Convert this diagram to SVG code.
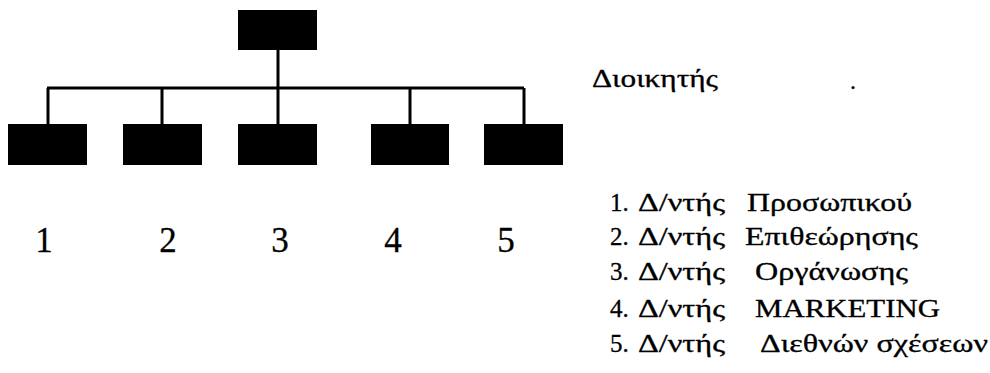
<svg xmlns="http://www.w3.org/2000/svg" width="990" height="373" viewBox="0 0 990 373">
<style>
.box{fill:#000}
.ln{stroke:#000;stroke-width:3;fill:none}
text{font-family:"Liberation Serif","Times New Roman","DejaVu Serif",serif;fill:#000;stroke:#000;stroke-width:0.3}
.num{font-size:35px}
.lst{font-size:25px}
</style>
<rect width="990" height="373" fill="#fff"/>
<g id="connectors">
<line class="ln" x1="278" y1="50" x2="278" y2="125"/>
<line class="ln" x1="47" y1="88" x2="524" y2="88"/>
<line class="ln" x1="48" y1="88" x2="48" y2="125"/>
<line class="ln" x1="162" y1="88" x2="162" y2="125"/>
<line class="ln" x1="410" y1="88" x2="410" y2="125"/>
<line class="ln" x1="524" y1="88" x2="524" y2="125"/>
</g>
<g id="node-top"><rect class="box" x="238" y="10" width="79" height="40"/></g>
<g id="node-1"><rect class="box" x="8" y="124" width="79" height="41"/></g>
<g id="node-2"><rect class="box" x="123" y="124" width="79" height="41"/></g>
<g id="node-3"><rect class="box" x="238" y="124" width="79" height="41"/></g>
<g id="node-4"><rect class="box" x="371" y="124" width="78" height="41"/></g>
<g id="node-5"><rect class="box" x="484" y="124" width="79" height="41"/></g>
<g id="numbers" class="num" text-anchor="middle">
<text x="44" y="252">1</text>
<text x="168" y="252">2</text>
<text x="280" y="252">3</text>
<text x="393" y="252">4</text>
<text x="506" y="252">5</text>
</g>
<text x="592" y="87" font-size="25" textLength="126" lengthAdjust="spacingAndGlyphs">Διοικητής</text>
<text x="850" y="89" font-size="24">.</text>
<g id="legend" class="lst">
<g><text x="610" y="211">1.</text><text x="638" y="211" textLength="87" lengthAdjust="spacingAndGlyphs">Δ/ντής</text><text x="747" y="211" textLength="165" lengthAdjust="spacingAndGlyphs">Προσωπικού</text></g>
<g><text x="610" y="245">2.</text><text x="638" y="245" textLength="87" lengthAdjust="spacingAndGlyphs">Δ/ντής</text><text x="745" y="245" textLength="173" lengthAdjust="spacingAndGlyphs">Επιθεώρησης</text></g>
<g><text x="610" y="280">3.</text><text x="638" y="280" textLength="87" lengthAdjust="spacingAndGlyphs">Δ/ντής</text><text x="755" y="280" textLength="153" lengthAdjust="spacingAndGlyphs">Οργάνωσης</text></g>
<g><text x="610" y="317">4.</text><text x="638" y="317" textLength="87" lengthAdjust="spacingAndGlyphs">Δ/ντής</text><text x="755" y="317" textLength="185" lengthAdjust="spacingAndGlyphs">MARKETING</text></g>
<g><text x="610" y="352">5.</text><text x="638" y="352" textLength="87" lengthAdjust="spacingAndGlyphs">Δ/ντής</text><text x="760" y="352" textLength="228" lengthAdjust="spacingAndGlyphs">Διεθνών σχέσεων</text></g>
</g>
</svg>
